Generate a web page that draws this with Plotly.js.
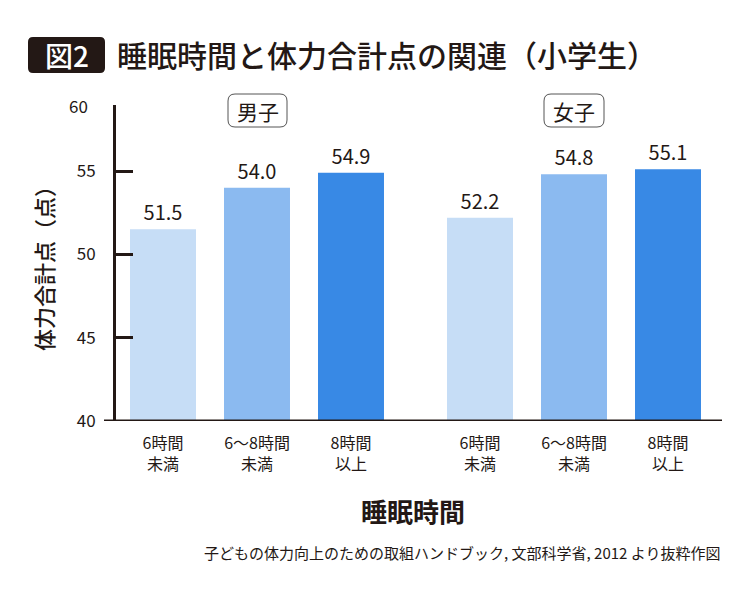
<!DOCTYPE html>
<html>
<head>
<meta charset="utf-8">
<script src="https://cdn.plot.ly/plotly-3.0.1.min.js"></script>
<style>body{margin:0;background:#fff}#chart{width:750px;height:591px}</style>
</head>
<body>
<div id="chart"></div>
<script>
// ---- data ----
const categories = ['6時間<br>未満', '6～8時間<br>未満', '8時間<br>以上'];
const boysScores = [51.5, 54.0, 54.9];
const girlsScores = [52.2, 54.8, 55.1];
const groupLabels = ['男子', '女子'];
const yTickVals = [40, 45, 50, 55];
const yTopLabel = '60';
const barColors = ['#c6ddf6', '#8bbaf0', '#3889e5'];

const ink = '#231815';
const FONT = '"Noto Sans CJK JP", "Noto Sans", sans-serif';

// layout geometry (pixels)
const L = 104, R = 28, T = 105, B = 170, Wd = 750, Ht = 591;
const PW = Wd - L - R, PH = Ht - T - B;
const px = v => (v - L) / PW;
const py = v => (Ht - B - v) / PH;
const yTop = 40 + PH / (250 / 15);

function roundRect(x0, y0, x1, y1, r) {
  const X = v => px(v), Y = v => py(v);
  return `M ${X(x0 + r)} ${Y(y0)} L ${X(x1 - r)} ${Y(y0)} Q ${X(x1)} ${Y(y0)} ${X(x1)} ${Y(y0 + r)} ` +
         `L ${X(x1)} ${Y(y1 - r)} Q ${X(x1)} ${Y(y1)} ${X(x1 - r)} ${Y(y1)} ` +
         `L ${X(x0 + r)} ${Y(y1)} Q ${X(x0)} ${Y(y1)} ${X(x0)} ${Y(y1 - r)} ` +
         `L ${X(x0)} ${Y(y0 + r)} Q ${X(x0)} ${Y(y0)} ${X(x0 + r)} ${Y(y0)} Z`;
}

function barTrace(vals, xa) {
  return {
    type: 'bar', x: categories, y: vals, xaxis: xa, yaxis: 'y',
    marker: {color: barColors, line: {width: 0}},
    text: vals.map(v => v.toFixed(1)), textposition: 'outside',
    textfont: {family: FONT, size: 20, color: ink},
    cliponaxis: false, hoverinfo: 'none'
  };
}

const xCommon = {
  type: 'category', showline: false, showgrid: false, zeroline: false, ticks: '',
  ticklabelstandoff: 11,
  tickfont: {family: FONT, size: 16, color: ink}, anchor: 'y', fixedrange: true
};

const layout = {
  width: Wd, height: Ht,
  margin: {l: L, r: R, t: T, b: B},
  paper_bgcolor: '#fff', plot_bgcolor: '#fff',
  showlegend: false, bargap: 0.298,
  xaxis: Object.assign({}, xCommon, {domain: [px(116), px(398)]}),
  xaxis2: Object.assign({}, xCommon, {domain: [px(433), px(715)]}),
  yaxis: {
    range: [40, yTop], tickvals: yTickVals, ticktext: yTickVals.map(String),
    showline: true, linewidth: 3, linecolor: ink, mirror: false,
    ticks: 'inside', ticklen: 17, tickwidth: 3, tickcolor: ink,
    showgrid: false, zeroline: false, ticklabelstandoff: 14,
    tickfont: {family: FONT, size: 17, color: ink},
    title: {text: '体力合計点（点）', font: {family: FONT, size: 22, color: ink, weight: 500}, standoff: 18}
  },
  shapes: [
    {type: 'line', xref: 'paper', yref: 'y', x0: 0, x1: 1, y0: 40, y1: 40, line: {color: ink, width: 3}},
    {type: 'path', xref: 'paper', yref: 'paper', path: roundRect(28, 37, 105, 73, 5), fillcolor: ink, line: {width: 0}},
    {type: 'path', xref: 'paper', yref: 'paper', path: roundRect(228, 94, 287, 127, 7), fillcolor: 'rgba(0,0,0,0)', line: {color: '#555', width: 1}},
    {type: 'path', xref: 'paper', yref: 'paper', path: roundRect(544, 94, 604, 127, 7), fillcolor: 'rgba(0,0,0,0)', line: {color: '#555', width: 1}}
  ],
  annotations: [
    {xref: 'paper', yref: 'paper', x: px(66.5), y: py(55), text: '図2', showarrow: false, xanchor: 'center', yanchor: 'middle',
     font: {family: FONT, size: 28, color: '#fff', weight: 500}},
    {xref: 'paper', yref: 'paper', x: px(115), y: py(54), text: '睡眠時間と体力合計点の関連（小学生）', showarrow: false, xanchor: 'left', yanchor: 'middle',
     font: {family: FONT, size: 30, color: ink, weight: 500}},
    {xref: 'paper', yref: 'paper', x: px(257.5), y: py(110.5), text: groupLabels[0], showarrow: false, xanchor: 'center', yanchor: 'middle',
     font: {family: FONT, size: 21, color: ink}},
    {xref: 'paper', yref: 'paper', x: px(574), y: py(110.5), text: groupLabels[1], showarrow: false, xanchor: 'center', yanchor: 'middle',
     font: {family: FONT, size: 21, color: ink}},
    {xref: 'paper', yref: 'y', x: 0, y: yTop, xshift: -14, text: yTopLabel, showarrow: false, xanchor: 'right', yanchor: 'middle',
     font: {family: FONT, size: 17, color: ink}},
    {xref: 'paper', yref: 'paper', x: 0.5, y: py(510), text: '睡眠時間', showarrow: false, xanchor: 'center', yanchor: 'middle',
     font: {family: FONT, size: 26, color: ink, weight: 'bold'}},
    {xref: 'paper', yref: 'paper', x: 1, y: py(552), text: '子どもの体力向上のための取組ハンドブック, 文部科学省, 2012 より抜粋作図', showarrow: false, xanchor: 'right', yanchor: 'middle',
     font: {family: FONT, size: 15, color: ink}}
  ]
};

Plotly.newPlot('chart', [barTrace(boysScores, 'x'), barTrace(girlsScores, 'x2')], layout, {staticPlot: true, displayModeBar: false});
</script>
</body>
</html>
